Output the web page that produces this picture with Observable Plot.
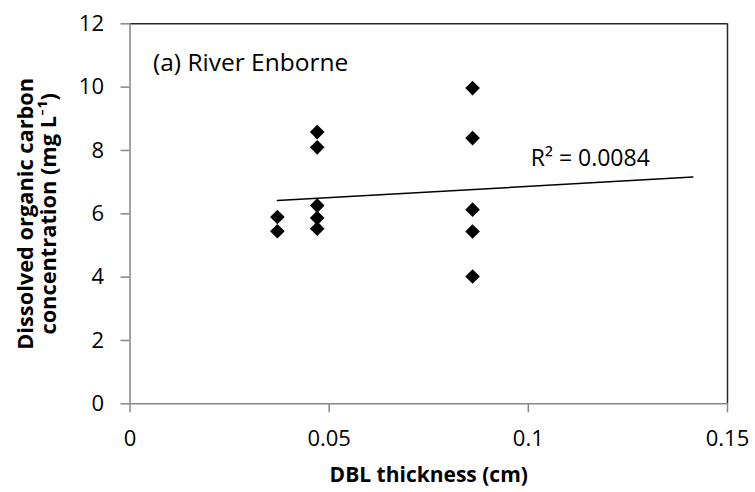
<!DOCTYPE html>
<html>
<head>
<meta charset="utf-8">
<script src="https://cdn.jsdelivr.net/npm/d3@7"></script>
<script src="https://cdn.jsdelivr.net/npm/@observablehq/plot@0.6"></script>
<style>
  html, body { margin: 0; padding: 0; background: #fff; }
  svg { display: block; }
</style>
</head>
<body>
<div id="chart"></div>
<script>
// DBL thickness (cm) and DOC concentration (mg L-1)
const dblThickness = [0.037, 0.037, 0.047, 0.047, 0.047, 0.047, 0.047, 0.086, 0.086, 0.086, 0.086, 0.086];
const docConc      = [5.90, 5.45, 8.58, 8.10, 6.26, 5.87, 5.53, 9.97, 8.39, 6.13, 5.44, 4.02];

// Linear trendline endpoints as drawn in the reference
const trendX = [0.037, 0.1413];
const trendY = [6.42, 7.16];

const xTicks = [0, 0.05, 0.1, 0.15];
const yTicks = [0, 2, 4, 6, 8, 10, 12];

const titleText = "(a) River Enborne";
const r2Text = "R² = 0.0084";
const xLabel = "DBL thickness (cm)";
const yLabel = "Dissolved organic carbon\nconcentration (mg L⁻¹)";

const points = dblThickness.map((x, i) => ({x, y: docConc[i]}));
const trend = trendX.map((x, i) => ({x, y: trendY[i]}));

const font = "'Open Sans', Lato, sans-serif";
const axisGray = "#868686";

const chart = Plot.plot({
  width: 755,
  height: 492,
  marginLeft: 129.5,
  marginRight: 28,
  marginTop: 23.3,
  marginBottom: 88.7,
  style: {fontFamily: font, background: "#fff", color: "#000", overflow: "visible"},
  x: {domain: [0, 0.15]},
  y: {domain: [0, 12]},
  marks: [
    // frame: gray left/bottom axes, dark top/right border
    Plot.ruleX([0.15], {stroke: "#262626", strokeWidth: 1.5}),
    Plot.ruleY([12], {stroke: "#262626", strokeWidth: 1.5}),
    Plot.ruleX([0], {stroke: axisGray, strokeWidth: 1.5}),
    Plot.ruleY([0], {stroke: axisGray, strokeWidth: 1.5}),
    Plot.axisX({
      ticks: xTicks, tickFormat: d => String(d), tickSize: 9, tickPadding: 18,
      stroke: axisGray, strokeWidth: 1.5, fontSize: 22, fill: "#000", label: null
    }),
    Plot.axisY({
      ticks: yTicks, tickFormat: d => String(d), tickSize: 9, tickPadding: 17,
      stroke: axisGray, strokeWidth: 1.5, fontSize: 22, fill: "#000", label: null
    }),
    Plot.line(trend, {x: "x", y: "y", stroke: "#000", strokeWidth: 1.5}),
    Plot.dot(points, {x: "x", y: "y", symbol: "diamond2", r: 6.6, fill: "#000", stroke: "none"}),
    Plot.text([titleText], {frameAnchor: "top-left", dx: 23, dy: 29.5, text: d => d, fontSize: 24.5, textAnchor: "start", lineAnchor: "top", fill: "#000"}),
    Plot.text([r2Text], {x: [0.1006], y: [7.73], text: d => d, fontSize: 23, textAnchor: "start", fill: "#000"}),
    Plot.text([xLabel], {frameAnchor: "bottom", dy: 71, text: d => d, fontSize: 21, fontWeight: "bold", lineAnchor: "middle", fill: "#000"}),
    Plot.text([yLabel], {frameAnchor: "left", dx: -93, text: d => d, fontSize: 21.8, fontWeight: "bold", rotate: -90, textAnchor: "middle", lineAnchor: "middle", lineHeight: 1.08, fill: "#000"})
  ]
});
document.getElementById("chart").appendChild(chart);
</script>
</body>
</html>
